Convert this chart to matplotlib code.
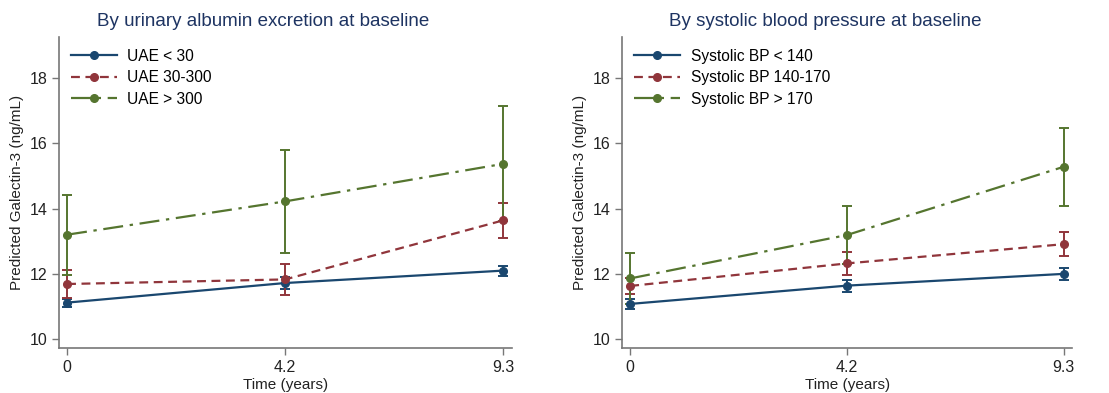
import numpy as np
import matplotlib
matplotlib.use("Agg")
import matplotlib.pyplot as plt

plt.rcParams["font.family"] = ["Liberation Sans", "DejaVu Sans"]

time_labels = ["0", "4.2", "9.3"]

# left panel: urinary albumin excretion
uae_names = ["UAE < 30", "UAE 30-300", "UAE > 300"]
uae_mean = [
    [11.12, 11.72, 12.10],
    [11.69, 11.83, 13.64],
    [13.20, 14.22, 15.37],
]
uae_err = [
    [0.12, 0.17, 0.15],
    [0.42, 0.47, 0.53],
    [1.23, 1.57, 1.76],
]

# right panel: systolic blood pressure
bp_names = ["Systolic BP < 140", "Systolic BP 140-170", "Systolic BP > 170"]
bp_mean = [
    [11.08, 11.64, 12.00],
    [11.63, 12.32, 12.91],
    [11.86, 13.19, 15.28],
]
bp_err = [
    [0.15, 0.18, 0.18],
    [0.25, 0.35, 0.37],
    [0.79, 0.89, 1.20],
]

colors = ["#1a476f", "#90353b", "#55752f"]
styles = ["-", (0, (4, 2.5)), (0, (9, 3, 1.5, 3))]
spine_col = "#777777"


def draw_panel(ax, title, names, means, errs):
    x = np.arange(len(time_labels))
    for name, m, e, c, ls in zip(names, means, errs, colors, styles):
        ax.errorbar(x, m, yerr=e, fmt="none", ecolor=c, elinewidth=1.4,
                    capsize=3.5, capthick=1.4, zorder=2)
        ax.plot(x, m, color=c, linestyle=ls, linewidth=1.6, marker="o",
                markersize=5.5, label=name, zorder=3)
    ax.set_xlim(-0.037, 2.04)
    ax.set_ylim(9.73, 19.25)
    ax.set_xticks(x)
    ax.set_xticklabels(time_labels)
    ax.set_yticks([10, 12, 14, 16, 18])
    ax.tick_params(colors=spine_col, labelcolor="#222222", labelsize=11.5,
                   length=5, width=1)
    for s in ["top", "right"]:
        ax.spines[s].set_visible(False)
    for s in ["left", "bottom"]:
        ax.spines[s].set_color(spine_col)
        ax.spines[s].set_linewidth(1.2)
    ax.set_xlabel("Time (years)", fontsize=11, color="#222222", labelpad=2)
    ax.set_ylabel("Predicted Galectin-3 (ng/mL)", fontsize=11,
                  color="#222222", labelpad=4)
    ax.set_title(title, fontsize=13.5, color="#1e3462", pad=8, x=0.45)
    ax.legend(loc="upper left", frameon=False, fontsize=11.2,
              handlelength=3.0, handletextpad=0.65, labelspacing=0.42,
              borderaxespad=0.4, borderpad=0.35)


fig = plt.figure(figsize=(11.09, 3.93), dpi=100)
ax1 = fig.add_axes([0.0532, 0.1145, 0.4085, 0.791])
ax2 = fig.add_axes([0.561, 0.1145, 0.406, 0.791])

draw_panel(ax1, "By urinary albumin excretion at baseline",
           uae_names, uae_mean, uae_err)
draw_panel(ax2, "By systolic blood pressure at baseline",
           bp_names, bp_mean, bp_err)

fig.savefig("out.png", dpi=100)
